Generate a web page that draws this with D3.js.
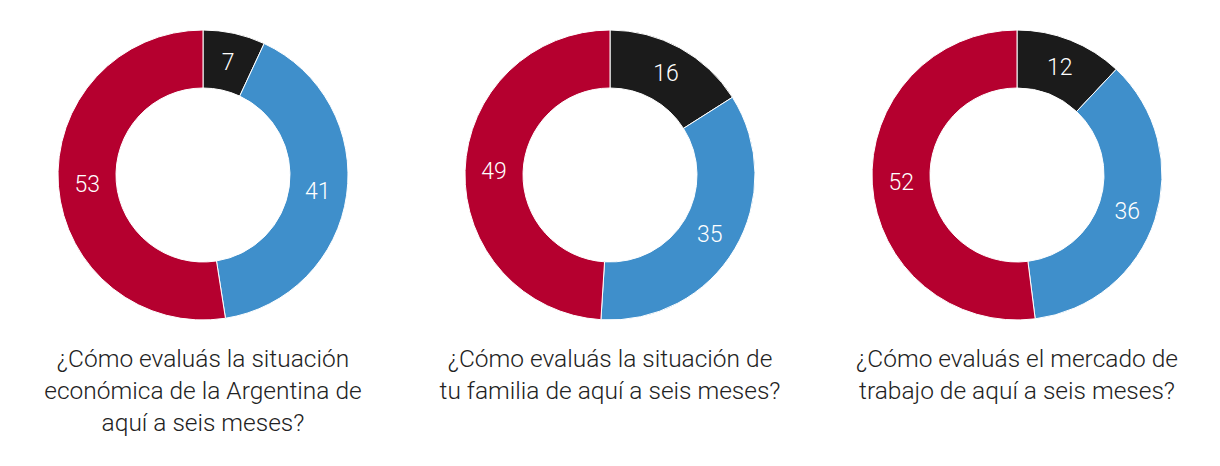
<!DOCTYPE html>
<html><head><meta charset="utf-8">
<script src="https://cdn.jsdelivr.net/npm/d3@7"></script>
<style>body{margin:0;background:#fff;}svg{display:block;}</style>
</head><body>
<svg id="c" width="1220" height="466"></svg>
<script>
const categories = ["Mejor", "Igual", "Peor"];
const series1 = [7, 41, 53];
const series2 = [16, 35, 49];
const series3 = [12, 36, 52];
const titles = [
  ["¿Cómo evaluás la situación", "económica de la Argentina de", "aquí a seis meses?"],
  ["¿Cómo evaluás la situación de", "tu familia de aquí a seis meses?"],
  ["¿Cómo evaluás el mercado de", "trabajo de aquí a seis meses?"]
];
const colors = ["#1b1b1b", "#3f8fcb", "#b5002f"];
const allSeries = [series1, series2, series3];

const svg = d3.select("#c");
const centers = [203, 610, 1017];
const cy = 175, rOuter = 145, rInner = 87;
const pie = d3.pie().sort(null).value(d => d);
const arc = d3.arc().innerRadius(rInner).outerRadius(rOuter);
const labelArc = d3.arc().innerRadius(116).outerRadius(116);

allSeries.forEach((vals, i) => {
  const g = svg.append("g").attr("transform", `translate(${centers[i]},${cy})`);
  const arcs = pie(vals);
  g.selectAll("path").data(arcs).join("path")
    .attr("d", arc)
    .attr("fill", (d, j) => colors[j])
    .attr("stroke", "#fff").attr("stroke-width", 1);
  g.selectAll("text.v").data(arcs).join("text").attr("class", "v")
    .attr("transform", d => `translate(${labelArc.centroid(d)})`)
    .attr("text-anchor", "middle").attr("dy", "0.35em")
    .attr("fill", "#fff")
    .style("font-family", "Roboto, sans-serif").style("font-weight", 300)
    .style("font-size", "23px")
    .text(d => d.data);
  const t = svg.append("text")
    .attr("text-anchor", "middle")
    .attr("fill", "#222")
    .style("font-family", "Roboto, sans-serif").style("font-weight", 300)
    .style("font-size", "24.5px");
  titles[i].forEach((line, k) => {
    t.append("tspan").attr("x", centers[i]).attr("y", 367 + k * 32).text(line);
  });
});
</script>
</body></html>
